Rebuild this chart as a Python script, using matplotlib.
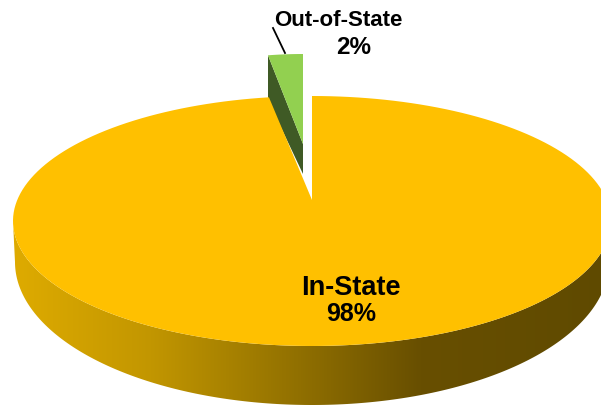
import numpy as np
import matplotlib
matplotlib.use('Agg')
import matplotlib.pyplot as plt
from matplotlib.colors import LinearSegmentedColormap
from matplotlib.patches import Polygon

# data
labels = ['In-State', 'Out-of-State']
shown_pct = [98, 2]
shares = [97.7, 2.3]  # slightly more exact

plt.rcParams['font.family'] = ['Liberation Sans', 'DejaVu Sans']

YELLOW = '#FFC000'
GREEN = '#92D050'
DARK_GREEN = '#3F5A25'

# ellipse of the top face, in picture pixels
CX, CY, A, B = 312, 221, 299, 125
APEX = (312, 200)
# bottom rim of the wall
BOT_CY, BOT_A, BOT_B = 262, 297, 143


def arc(t0, t1, cx=CX, cy=CY, a=A, b=B, n=200):
    # t is clockwise from 12 o'clock, in percent of the pie
    t = np.radians(np.linspace(t0, t1, n) * 3.6)
    return np.column_stack([cx + a * np.sin(t), cy - b * np.cos(t)])


fig = plt.figure(figsize=(6.01, 4.05), dpi=100)
ax = fig.add_axes([0, 0, 1, 1])
ax.set_xlim(0, 601)
ax.set_ylim(405, 0)
ax.axis('off')

# side wall with the horizontal shading
wall_pts = np.vstack([arc(75, 25), arc(25, 75, CX, BOT_CY, BOT_A, BOT_B)])
wall = Polygon(wall_pts, closed=True, fc='none', ec='none')
ax.add_patch(wall)
wall_cmap = LinearSegmentedColormap.from_list('wall', [
    (0.0, '#DEAB00'), (0.23, '#C29600'), (0.40, '#A07C00'),
    (0.68, '#684F00'), (1.0, '#5F4A00')])
grad = ax.imshow(np.linspace(0, 1, 256)[None, :], cmap=wall_cmap, aspect='auto',
                 extent=[13, 612, 405, 200], zorder=1)
grad.set_clip_path(wall)
ax.set_xlim(0, 601)
ax.set_ylim(405, 0)

# exploded small slice
out_share = shares[1]
out_top = arc(-out_share, 0, CX - 9, 179, 243, B, 20)
side = Polygon([out_top[0], (out_top[0][0], 100), (303, 174), (303, 144)],
               closed=True, fc=DARK_GREEN, ec='none', zorder=2)
ax.add_patch(side)
green = Polygon(np.vstack([(303, 144), out_top]), closed=True, fc=GREEN, ec='none', zorder=3)
ax.add_patch(green)

# big slice top face
top = np.vstack([APEX, arc(0, shares[0])])
ax.add_patch(Polygon(top, closed=True, fc=YELLOW, ec='none', zorder=4))

# labels
ax.plot([273, 285], [28, 53], color='black', lw=1.3, zorder=5)
ax.text(338, 20, labels[1], ha='center', va='center', fontsize=16,
        fontweight='bold', color='black', zorder=6)
ax.text(354, 47, f'{shown_pct[1]}%', ha='center', va='center', fontsize=17.5,
        fontweight='bold', color='black', zorder=6)
ax.text(351, 288, labels[0], ha='center', va='center', fontsize=19.5,
        fontweight='bold', color='black', zorder=6)
ax.text(351, 314, f'{shown_pct[0]}%', ha='center', va='center', fontsize=18,
        fontweight='bold', color='black', zorder=6)

fig.savefig('out.png', dpi=100)
